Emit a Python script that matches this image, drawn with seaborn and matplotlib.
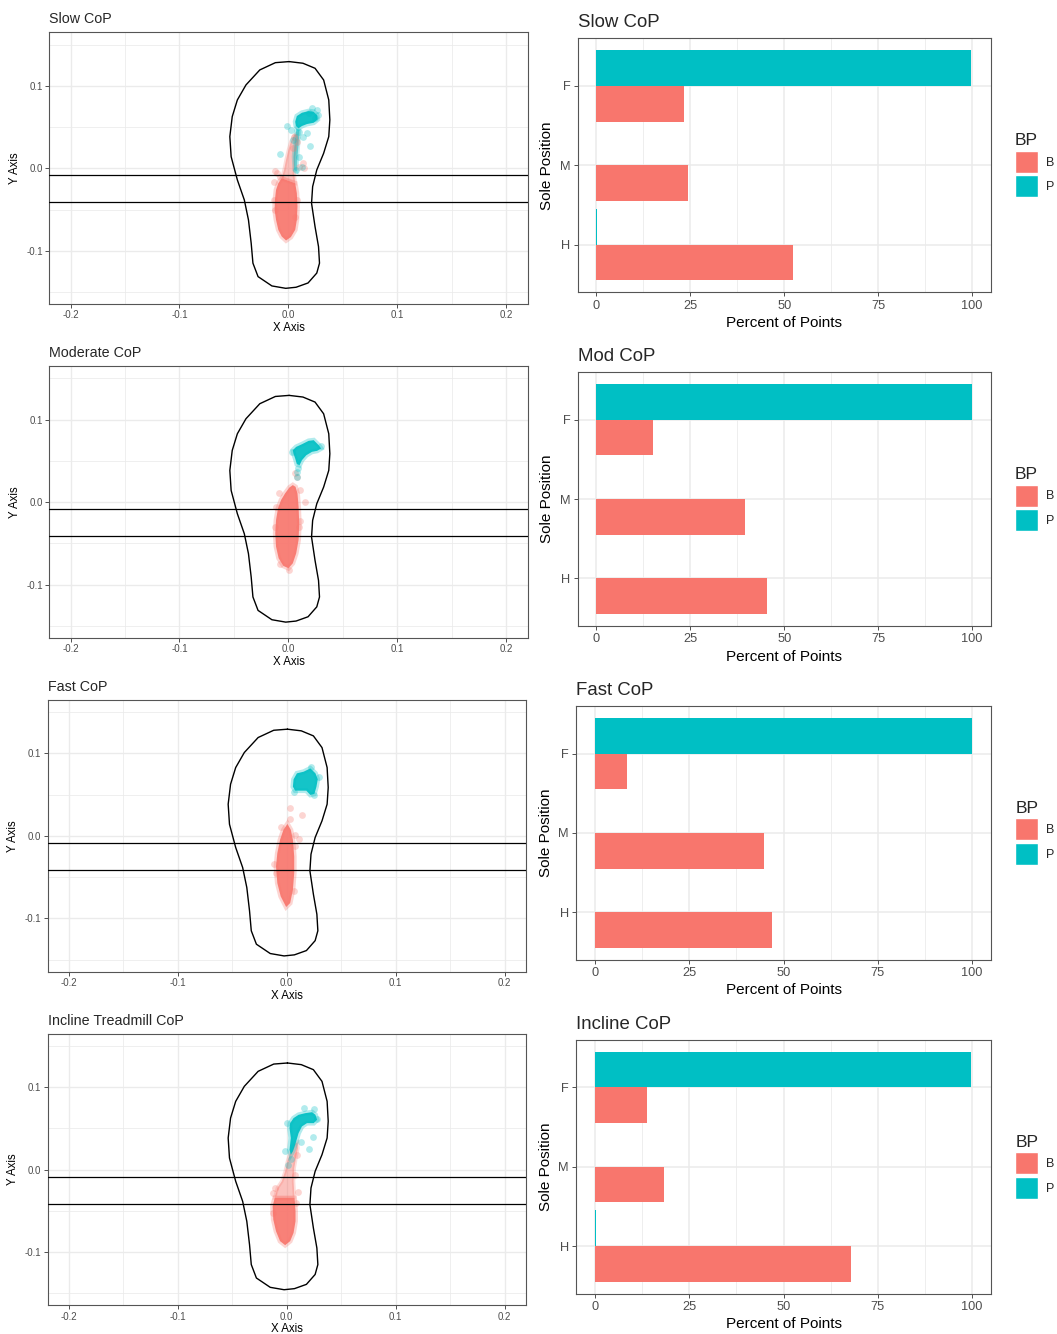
import matplotlib
matplotlib.use("Agg")
import matplotlib.pyplot as plt
from matplotlib.colors import to_rgba
from matplotlib.patches import Patch
import pandas as pd
import seaborn as sns

# ---------------- data ----------------
positions = ["F", "M", "H"]
bp_levels = ["B", "P"]
scatter_titles = ["Slow CoP", "Moderate CoP", "Fast CoP", "Incline Treadmill CoP"]
bar_titles = ["Slow CoP", "Mod CoP", "Fast CoP", "Incline CoP"]

# percent of points per sole position (F, M, H)
pct_b_slow = [23.2, 24.4, 52.4]
pct_p_slow = [99.8, 0.0, 0.2]
pct_b_mod = [15.1, 39.5, 45.4]
pct_p_mod = [100.0, 0.0, 0.0]
pct_b_fast = [8.4, 44.7, 46.9]
pct_p_fast = [100.0, 0.0, 0.0]
pct_b_incline = [13.8, 18.4, 67.8]
pct_p_incline = [99.7, 0.0, 0.3]

# sole outline (x, y) in metres
foot_outline = [
    (0.0006, 0.1293), (0.0133, 0.1273), (0.0244, 0.1212), (0.0323, 0.1070),
    (0.0370, 0.0828), (0.0380, 0.0586), (0.0370, 0.0384), (0.0323, 0.0182),
    (0.0260, -0.0020), (0.0222, -0.0222), (0.0212, -0.0424), (0.0244, -0.0707),
    (0.0276, -0.0950), (0.0285, -0.1150), (0.0260, -0.1270), (0.0180, -0.1390),
    (0.0070, -0.1442), (-0.0025, -0.1455), (-0.0152, -0.1426), (-0.0279, -0.1313),
    (-0.0326, -0.1150), (-0.0342, -0.0909), (-0.0367, -0.0626), (-0.0405, -0.0384),
    (-0.0469, -0.0141), (-0.0526, 0.0141), (-0.0538, 0.0384), (-0.0516, 0.0626),
    (-0.0469, 0.0828), (-0.0390, 0.1010), (-0.0263, 0.1192), (-0.0120, 0.1280),
]
# midfoot band boundaries
band_y = [-0.0087, -0.0410]

# ---- Slow: CoP point clouds ----
slow_b_core = [(-0.0022, -0.0875), (-0.0062, -0.0826), (-0.0093, -0.0746), (-0.0114, -0.0625),
               (-0.0127, -0.0504), (-0.0124, -0.0383), (-0.0114, -0.0262), (-0.0093, -0.0181),
               (-0.0062, -0.0121), (0.0062, -0.0181), (0.0077, -0.0302), (0.0083, -0.0463),
               (0.0077, -0.0625), (0.0062, -0.0746), (0.0022, -0.0834)]
slow_b_tail = [(-0.0062, -0.0121), (-0.0040, -0.0020), (-0.0022, 0.0101), (0.0000, 0.0222),
               (0.0022, 0.0322), (0.0053, 0.0403), (0.0083, 0.0423), (0.0093, 0.0363),
               (0.0077, 0.0262), (0.0062, 0.0101), (0.0053, -0.0060), (0.0062, -0.0181)]
slow_b_pts = [(-0.0120, -0.0028), (-0.0130, -0.0162), (-0.0101, -0.0061), (0.0133, 0.0061),
              (0.0143, 0.0000), (0.0101, 0.0020), (0.0054, 0.0384), (0.0076, 0.0323),
              (-0.0136, -0.0384), (-0.0127, -0.0505), (0.0076, -0.0384), (0.0063, -0.0586),
              (-0.0080, -0.0100), (0.0040, 0.0250)]
slow_p_core = [(0.0062, 0.0564), (0.0077, 0.0633), (0.0124, 0.0673), (0.0185, 0.0693),
               (0.0232, 0.0685), (0.0263, 0.0645), (0.0269, 0.0592), (0.0232, 0.0552),
               (0.0170, 0.0536), (0.0124, 0.0512), (0.0093, 0.0484), (0.0068, 0.0512)]
slow_p_tail = [(0.0071, 0.0484), (0.0102, 0.0463), (0.0093, 0.0302), (0.0083, 0.0141),
               (0.0077, -0.0040), (0.0053, -0.0020), (0.0046, 0.0141), (0.0056, 0.0302)]
slow_p_pts = [(-0.0016, 0.0513), (0.0022, 0.0465), (0.0101, 0.0444), (0.0133, 0.0384),
              (0.0174, 0.0424), (0.0196, 0.0275), (-0.0082, 0.0174), (0.0101, 0.0141),
              (0.0127, 0.0020), (0.0070, -0.0020), (0.0244, 0.0606), (0.0260, 0.0707),
              (0.0212, 0.0727), (0.0187, 0.0667), (0.0038, 0.0343), (0.0270, 0.0640)]

# ---- Moderate ----
mod_b_core = [(0.0040, 0.0206), (0.0009, 0.0177), (-0.0031, 0.0105), (-0.0068, 0.0024),
              (-0.0096, -0.0077), (-0.0114, -0.0218), (-0.0121, -0.0379), (-0.0114, -0.0540),
              (-0.0090, -0.0681), (-0.0046, -0.0774), (0.0000, -0.0802), (0.0040, -0.0742),
              (0.0071, -0.0621), (0.0093, -0.0459), (0.0099, -0.0258), (0.0093, -0.0056),
              (0.0083, 0.0105), (0.0065, 0.0185)]
mod_b_tail = []
mod_b_pts = [(-0.0083, 0.0105), (-0.0114, -0.0064), (-0.0077, -0.0750), (0.0009, -0.0822),
             (0.0077, 0.0298), (0.0056, 0.0347), (0.0108, 0.0145), (0.0155, -0.0004),
             (0.0102, -0.0226), (0.0096, -0.0306), (-0.0122, -0.0300)]
mod_p_core = [(0.0040, 0.0629), (0.0071, 0.0669), (0.0124, 0.0701), (0.0185, 0.0742),
              (0.0232, 0.0750), (0.0278, 0.0689), (0.0300, 0.0649), (0.0263, 0.0621),
              (0.0216, 0.0609), (0.0164, 0.0568), (0.0124, 0.0508), (0.0102, 0.0447),
              (0.0077, 0.0459), (0.0062, 0.0528), (0.0046, 0.0588)]
mod_p_tail = []
mod_p_pts = [(0.0083, 0.0367), (0.0077, 0.0306), (0.0087, 0.0407), (0.0034, 0.0609),
             (0.0300, 0.0680)]

# ---- Fast ----
fast_b_core = [(0.0006, 0.0145), (-0.0031, 0.0073), (-0.0062, -0.0048), (-0.0087, -0.0210),
               (-0.0099, -0.0371), (-0.0087, -0.0572), (-0.0056, -0.0733), (-0.0006, -0.0862),
               (0.0031, -0.0814), (0.0056, -0.0653), (0.0068, -0.0451), (0.0068, -0.0250),
               (0.0056, -0.0048), (0.0037, 0.0073)]
fast_b_tail = []
fast_b_pts = [(0.0031, 0.0334), (0.0025, 0.0202), (0.0139, 0.0254), (-0.0056, 0.0113),
              (0.0077, 0.0012), (0.0108, -0.0036), (-0.0117, -0.0339), (0.0068, -0.0673),
              (0.0077, -0.0121), (-0.0100, -0.0450)]
fast_p_core = [(0.0062, 0.0685), (0.0093, 0.0758), (0.0155, 0.0778), (0.0216, 0.0818),
               (0.0263, 0.0758), (0.0284, 0.0685), (0.0272, 0.0596), (0.0253, 0.0508),
               (0.0216, 0.0496), (0.0179, 0.0548), (0.0124, 0.0548), (0.0077, 0.0548),
               (0.0056, 0.0596)]
fast_p_tail = []
fast_p_pts = [(0.0226, 0.0838), (0.0247, 0.0496), (0.0068, 0.0536), (0.0294, 0.0717)]

# ---- Incline ----
incline_b_core = [(-0.0015, -0.0915), (-0.0062, -0.0866), (-0.0099, -0.0746), (-0.0124, -0.0605),
                  (-0.0130, -0.0443), (-0.0111, -0.0343), (0.0071, -0.0343), (0.0080, -0.0504),
                  (0.0080, -0.0625), (0.0062, -0.0766), (0.0031, -0.0866)]
incline_b_tail = [(-0.0111, -0.0343), (-0.0087, -0.0222), (-0.0046, -0.0141), (-0.0015, -0.0020),
                  (0.0006, 0.0101), (0.0031, 0.0202), (0.0068, 0.0310), (0.0099, 0.0334),
                  (0.0102, 0.0262), (0.0087, 0.0161), (0.0068, 0.0020), (0.0062, -0.0141),
                  (0.0071, -0.0343)]
incline_b_pts = [(-0.0130, -0.0282), (-0.0105, -0.0222), (0.0099, -0.0270), (0.0087, -0.0403),
                 (0.0077, -0.0060), (0.0093, 0.0181), (-0.0125, -0.0520)]
incline_p_core = [(0.0031, 0.0564), (0.0062, 0.0625), (0.0108, 0.0665), (0.0170, 0.0685),
                  (0.0232, 0.0697), (0.0263, 0.0665), (0.0278, 0.0605), (0.0247, 0.0564),
                  (0.0185, 0.0564), (0.0139, 0.0524), (0.0108, 0.0443), (0.0077, 0.0302),
                  (0.0056, 0.0222), (0.0037, 0.0181), (0.0025, 0.0242), (0.0037, 0.0383),
                  (0.0025, 0.0504)]
incline_p_tail = []
incline_p_pts = [(0.0155, 0.0746), (0.0247, 0.0733), (0.0015, 0.0060), (0.0037, 0.0133),
                 (0.0201, 0.0254), (0.0238, 0.0391), (0.0130, 0.0334), (-0.0015, 0.0222),
                 (0.0006, 0.0564), (0.0280, 0.0620)]

# ---------------- style ----------------
COL_B = "#F8766D"
COL_P = "#00BFC4"
GRID = "#EBEBEB"
BORDER = "#555555"
TICKTXT = "#4D4D4D"

sns.set_style("white")
plt.rcParams["font.family"] = ["Liberation Sans", "DejaVu Sans"]
plt.rcParams["axes.unicode_minus"] = False

W, H = 1057, 1334
fig = plt.figure(figsize=(W / 100, H / 100), dpi=100)


def rect(x0, y0, x1, y1):
    return [x0 / W, 1 - y1 / H, (x1 - x0) / W, (y1 - y0) / H]


ROW_STEP = 333.8
left_x = [(49.3, 527.6), (49.3, 527.6), (47.6, 526.0), (47.6, 526.0)]
right_x = [(577.7, 990.7), (577.7, 990.7), (576.0, 991.0), (576.0, 991.0)]

pct_b = [pct_b_slow, pct_b_mod, pct_b_fast, pct_b_incline]
pct_p = [pct_p_slow, pct_p_mod, pct_p_fast, pct_p_incline]
clouds = [
    (slow_b_core, slow_b_tail, slow_b_pts, slow_p_core, slow_p_tail, slow_p_pts),
    (mod_b_core, mod_b_tail, mod_b_pts, mod_p_core, mod_p_tail, mod_p_pts),
    (fast_b_core, fast_b_tail, fast_b_pts, fast_p_core, fast_p_tail, fast_p_pts),
    (incline_b_core, incline_b_tail, incline_b_pts,
     incline_p_core, incline_p_tail, incline_p_pts),
]


def style_box(ax, lw=0.8):
    for sp in ax.spines.values():
        sp.set_visible(True)
        sp.set_color(BORDER)
        sp.set_linewidth(lw)
    ax.set_axisbelow(True)


def draw_cloud(ax, core, tail, pts, color):
    if tail:
        ax.fill([p[0] for p in tail], [p[1] for p in tail],
                facecolor=to_rgba(color, 0.45), edgecolor=to_rgba(color, 0.25),
                linewidth=2.5, zorder=3)
    ax.fill([p[0] for p in core], [p[1] for p in core],
            facecolor=to_rgba(color, 0.92), edgecolor=to_rgba(color, 0.3),
            linewidth=3.5, zorder=3)
    sns.scatterplot(x=[p[0] for p in pts], y=[p[1] for p in pts], ax=ax,
                    color=color, s=24, alpha=0.3, linewidth=0, legend=False, zorder=4)


for i in range(4):
    y_off = i * ROW_STEP

    # ---------- left: CoP trace on the sole ----------
    lx0, lx1 = left_x[i]
    ax = fig.add_axes(rect(lx0, 32.3 + y_off, lx1, 304.0 + y_off))
    ax.set_xlim(-0.2195, 0.2195)
    ax.set_ylim(-0.1645, 0.1648)
    ax.set_xticks([-0.2, -0.1, 0.0, 0.1, 0.2])
    ax.set_xticklabels(["-0.2", "-0.1", "0.0", "0.1", "0.2"])
    ax.set_yticks([-0.1, 0.0, 0.1])
    ax.set_yticklabels(["-0.1", "0.0", "0.1"])
    ax.set_xticks([-0.15, -0.05, 0.05, 0.15], minor=True)
    ax.set_yticks([-0.15, -0.05, 0.05, 0.15], minor=True)
    ax.grid(which="major", color=GRID, linewidth=1.0)
    ax.grid(which="minor", color=GRID, linewidth=0.55)
    ax.tick_params(which="major", bottom=True, left=True, length=2.6, width=0.6,
                   color="#333333", labelsize=7.0, labelcolor=TICKTXT, pad=2)
    ax.tick_params(which="minor", length=0)
    style_box(ax)

    b_core, b_tail, b_pts, p_core, p_tail, p_pts = clouds[i]
    draw_cloud(ax, b_core, b_tail, b_pts, COL_B)
    draw_cloud(ax, p_core, p_tail, p_pts, COL_P)

    fx = [p[0] for p in foot_outline] + [foot_outline[0][0]]
    fy = [p[1] for p in foot_outline] + [foot_outline[0][1]]
    ax.plot(fx, fy, color="black", linewidth=1.0, zorder=5)
    for yb in band_y:
        ax.axhline(yb, color="black", linewidth=0.9, zorder=5)

    ax.set_xlabel("X Axis", fontsize=8.3, color="black", labelpad=1.2)
    ax.set_ylabel("Y Axis", fontsize=8.3, color="black", labelpad=4)
    ax.set_title(scatter_titles[i], loc="left", fontsize=10.3, pad=6.5)

    # ---------- right: share of points per sole region ----------
    rx0, rx1 = right_x[i]
    bx = fig.add_axes(rect(rx0, 38.3 + y_off, rx1, 292.3 + y_off))
    df = pd.DataFrame({
        "Sole Position": positions * 2,
        "Percent": pct_b[i] + pct_p[i],
        "BP": [bp_levels[0]] * 3 + [bp_levels[1]] * 3,
    })
    sns.barplot(data=df, y="Sole Position", x="Percent", hue="BP",
                order=positions, hue_order=["P", "B"],
                palette={"B": COL_B, "P": COL_P}, orient="h", width=0.9,
                saturation=1, linewidth=0, legend=False, ax=bx)
    bx.set_xlim(-5, 105)
    bx.set_ylim(2.6, -0.6)
    bx.set_xticks([0, 25, 50, 75, 100])
    bx.set_xticklabels(["0", "25", "50", "75", "100"])
    bx.set_xticks([12.5, 37.5, 62.5, 87.5], minor=True)
    bx.grid(which="major", color=GRID, linewidth=1.1)
    bx.grid(which="minor", axis="x", color=GRID, linewidth=0.6)
    bx.tick_params(which="major", bottom=True, left=True, length=2.8, width=0.6,
                   color="#333333", labelsize=9.2, labelcolor=TICKTXT, pad=2.5)
    bx.tick_params(which="minor", length=0)
    style_box(bx)
    bx.set_xlabel("Percent of Points", fontsize=11, color="black", labelpad=3)
    bx.set_ylabel("Sole Position", fontsize=11, color="black", labelpad=4)
    bx.set_title(bar_titles[i], loc="left", fontsize=13.4, pad=8)

    handles = [Patch(facecolor=COL_B, edgecolor="white", linewidth=1),
               Patch(facecolor=COL_P, edgecolor="white", linewidth=1)]
    leg = bx.legend(handles, bp_levels, title="BP", loc="center left",
                    bbox_to_anchor=(1.0588, 0.5), frameon=False, borderpad=0,
                    fontsize=9, title_fontsize=12.5, handlelength=1.84,
                    handleheight=2.33, labelspacing=0.2, handletextpad=0.64,
                    borderaxespad=0)
    leg._legend_box.align = "left"

fig.savefig("out.png", dpi=100)
